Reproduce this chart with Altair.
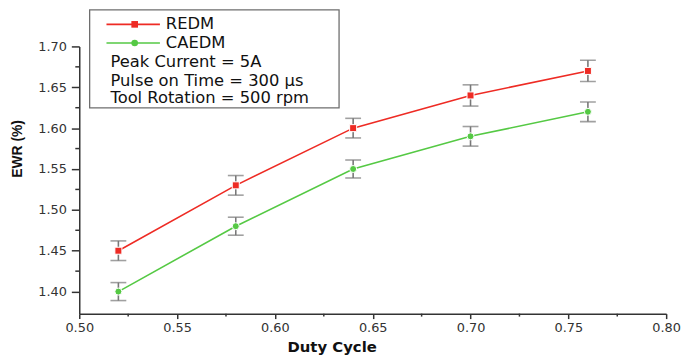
import altair as alt
import pandas as pd

# ---- data ----
duty = [0.52, 0.58, 0.64, 0.70, 0.76]
redm = [1.45, 1.53, 1.60, 1.64, 1.67]
caedm = [1.40, 1.48, 1.55, 1.59, 1.62]
err_redm = [0.012, 0.012, 0.012, 0.013, 0.013]
err_caedm = [0.011, 0.011, 0.011, 0.012, 0.012]

x_ticks = [0.50, 0.55, 0.60, 0.65, 0.70, 0.75, 0.80]
x_minor = [0.525, 0.575, 0.625, 0.675, 0.725, 0.775]
y_ticks = [1.40, 1.45, 1.50, 1.55, 1.60, 1.65, 1.70]
y_minor = [1.425, 1.475, 1.525, 1.575, 1.625, 1.675]

series_names = ["REDM", "CAEDM"]
RED = "#ee2b24"
GREEN = "#55c944"
GRAY = "#787878"
AX = "#333333"

rows = []
for name, vals, errs in [("REDM", redm, err_redm), ("CAEDM", caedm, err_caedm)]:
    for xv, yv, ev in zip(duty, vals, errs):
        rows.append({"series": name, "x": xv, "y": yv, "lo": yv - ev, "hi": yv + ev})
df = pd.DataFrame(rows)

xscale = alt.Scale(domain=[0.5, 0.8], nice=False, zero=False)
yscale = alt.Scale(domain=[1.373, 1.70], nice=False, zero=False)

xaxis = alt.Axis(
    values=x_ticks, format=".2f", grid=False,
    labelFont="DejaVu Sans", labelFontSize=13, labelColor=AX,
    labelFlush=False, labelOverlap=False, labelPadding=3,
    tickSize=5, tickWidth=1.5, tickColor=AX, domainColor=AX, domainWidth=1.5,
    title="Duty Cycle", titleFont="DejaVu Sans", titleFontWeight="bold",
    titleFontSize=15, titleColor="#111111", titleX=255, titleY=33,
    titleAlign="center", titleBaseline="middle",
)
yaxis = alt.Axis(
    values=y_ticks, format=".2f", grid=False,
    labelFont="DejaVu Sans", labelFontSize=13, labelColor=AX,
    labelFlush=False, labelOverlap=False, labelPadding=5,
    tickSize=8, tickWidth=1.5, tickColor=AX, domainColor=AX, domainWidth=1.5,
    title="EWR (%)", titleFont="Liberation Sans", titleFontWeight="bold",
    titleFontSize=14, titleColor="#111111", titleX=-62, titleY=103,
    titleAngle=270, titleAlign="center", titleBaseline="middle",
)

color = alt.Color("series:N", scale=alt.Scale(domain=series_names, range=[RED, GREEN]), legend=None)
shape = alt.Shape("series:N", scale=alt.Scale(domain=series_names, range=["square", "circle"]), legend=None)

base = alt.Chart(df)

err_rule = base.mark_rule(color=GRAY, strokeWidth=1.6).encode(
    x=alt.X("x:Q", scale=xscale, axis=xaxis),
    y=alt.Y("lo:Q", scale=yscale, axis=yaxis),
    y2="hi:Q",
)
cap_lo = base.mark_tick(orient="horizontal", size=16, thickness=1.6, color=GRAY).encode(
    x="x:Q", y="lo:Q"
)
cap_hi = base.mark_tick(orient="horizontal", size=16, thickness=1.6, color=GRAY).encode(
    x="x:Q", y="hi:Q"
)
lines = base.mark_line(strokeWidth=1.6).encode(
    x="x:Q", y="y:Q", color=color, detail="series:N"
)
points = base.mark_point(filled=True, size=50, stroke="white", strokeWidth=1.0, opacity=1).encode(
    x="x:Q", y="y:Q", fill=color, shape=shape
)

# minor ticks
xm = alt.Chart(pd.DataFrame({"x": x_minor})).mark_rule(color=AX, strokeWidth=1.5).encode(
    x="x:Q", y=alt.value(270), y2=alt.value(273)
)
ym = alt.Chart(pd.DataFrame({"y": y_minor})).mark_rule(color=AX, strokeWidth=1.5).encode(
    y="y:Q", x=alt.value(-4), x2=alt.value(0)
)

# legend box (annotation)
dummy = pd.DataFrame({"a": [0]})
box = alt.Chart(dummy).mark_rect(fill="white", stroke="#6e6e6e", strokeWidth=1.3).encode(
    x=alt.value(10.5), x2=alt.value(262.5), y=alt.value(-37), y2=alt.value(62)
)
leg_red = alt.Chart(dummy).mark_rule(color=RED, strokeWidth=1.6).encode(
    x=alt.value(27.5), x2=alt.value(81.5), y=alt.value(-22.3)
)
leg_green = alt.Chart(dummy).mark_rule(color=GREEN, strokeWidth=1.6).encode(
    x=alt.value(27.5), x2=alt.value(81.5), y=alt.value(-3.5)
)
leg_red_pt = alt.Chart(dummy).mark_point(shape="square", filled=True, size=45, color=RED, opacity=1).encode(
    x=alt.value(56), y=alt.value(-22.3)
)
leg_green_pt = alt.Chart(dummy).mark_point(shape="circle", filled=True, size=45, color=GREEN, opacity=1).encode(
    x=alt.value(56), y=alt.value(-3.5)
)

legend_lines = [
    ("REDM", 87.5, -22.3),
    ("CAEDM", 87.5, -3.5),
    ("Peak Current = 5A", 31.5, 16),
    ("Pulse on Time = 300 \u03bcs", 31.5, 34.5),
    ("Tool Rotation = 500 rpm", 31.5, 52.5),
]
leg_texts = [
    alt.Chart(dummy).mark_text(
        text=t, align="left", baseline="middle", font="DejaVu Sans", fontSize=16.5, color="#111111"
    ).encode(x=alt.value(xx), y=alt.value(yy))
    for t, xx, yy in legend_lines
]

chart = alt.layer(
    err_rule, cap_lo, cap_hi, lines, points, xm, ym,
    box, leg_red, leg_green, leg_red_pt, leg_green_pt, *leg_texts
).properties(
    width=593, height=270,
    padding={"left": 72, "top": 37, "right": 16, "bottom": 43},
    autosize=alt.AutoSizeParams(type="none"),
    background="white",
).configure_view(stroke=None)

chart.save("out.html", embed_options={"renderer": "svg", "actions": False})
